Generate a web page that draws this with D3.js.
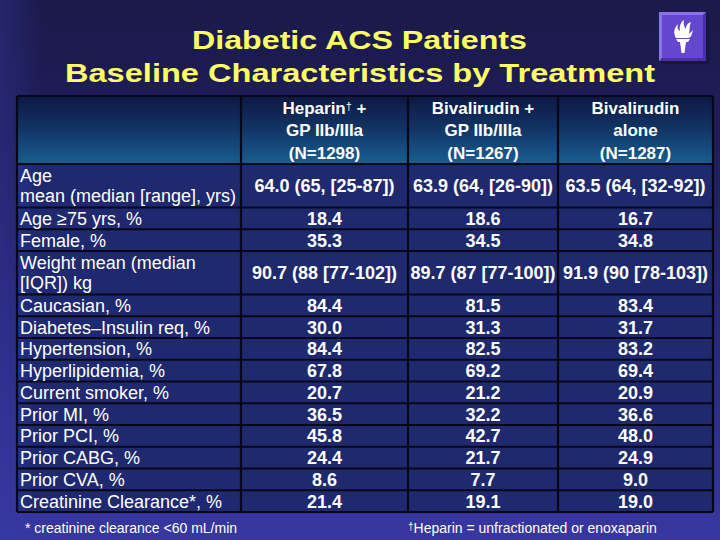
<!DOCTYPE html>
<html>
<head>
<meta charset="utf-8">
<script src="https://cdn.jsdelivr.net/npm/d3@7"></script>
<style>
  html, body { margin: 0; padding: 0; background: #1c1b4e; }
  svg { display: block; }
  text { font-family: "Liberation Sans", Arial, Helvetica, sans-serif; }
</style>
</head>
<body>
<div id="chart"></div>
<script>
// ---------------- DATA ----------------
const titleLines = ["Diabetic ACS Patients", "Baseline Characteristics by Treatment"];
const seriesNames = ["Heparin† +\nGP IIb/IIIa\n(N=1298)", "Bivalirudin +\nGP IIb/IIIa\n(N=1267)", "Bivalirudin\nalone\n(N=1287)"];
const categories = [
  "Age\nmean (median [range], yrs)",
  "Age ≥75 yrs, %",
  "Female, %",
  "Weight mean (median\n[IQR]) kg",
  "Caucasian, %",
  "Diabetes–Insulin req, %",
  "Hypertension, %",
  "Hyperlipidemia, %",
  "Current smoker, %",
  "Prior MI, %",
  "Prior PCI, %",
  "Prior CABG, %",
  "Prior CVA, %",
  "Creatinine Clearance*, %"
];
const heparinGP = ["64.0 (65, [25-87])", "18.4", "35.3", "90.7 (88 [77-102])", "84.4", "30.0", "84.4", "67.8", "20.7", "36.5", "45.8", "24.4", "8.6", "21.4"];
const bivalirudinGP = ["63.9 (64, [26-90])", "18.6", "34.5", "89.7 (87 [77-100])", "81.5", "31.3", "82.5", "69.2", "21.2", "32.2", "42.7", "21.7", "7.7", "19.1"];
const bivalirudinAlone = ["63.5 (64, [32-92])", "16.7", "34.8", "91.9 (90 [78-103])", "83.4", "31.7", "83.2", "69.4", "20.9", "36.6", "48.0", "24.9", "9.0", "19.0"];
const footnoteLeft = "* creatinine clearance <60 mL/min";
const footnoteRight = "†Heparin = unfractionated or enoxaparin";

// ---------------- LAYOUT ----------------
const W = 720, H = 540;
const tableLeft = 17, labelColRight = 241, tableRight = 713;
const colWidths = [167, 150, 155];
const headerTop = 96, headerBottom = 164, tableBottom = 512;

const svg = d3.select("#chart").append("svg").attr("width", W).attr("height", H);
const defs = svg.append("defs");

// background gradient
const bg = defs.append("linearGradient").attr("id", "bg").attr("x1", 0).attr("y1", 0).attr("x2", 0).attr("y2", 1);
bg.append("stop").attr("offset", 0).attr("stop-color", "#1b1a4b");
bg.append("stop").attr("offset", 0.25).attr("stop-color", "#1e1d58");
bg.append("stop").attr("offset", 0.6).attr("stop-color", "#272878");
bg.append("stop").attr("offset", 1).attr("stop-color", "#3737a0");
svg.append("rect").attr("width", W).attr("height", H).attr("fill", "url(#bg)");
const bgSide = defs.append("linearGradient").attr("id", "bgSide").attr("x1", 0).attr("y1", 0).attr("x2", 1).attr("y2", 0);
bgSide.append("stop").attr("offset", 0).attr("stop-color", "#3a3aa8").attr("stop-opacity", 0.35);
bgSide.append("stop").attr("offset", 0.06).attr("stop-color", "#3a3aa8").attr("stop-opacity", 0);
svg.append("rect").attr("width", W).attr("height", H).attr("fill", "url(#bgSide)");

// header gradient
const hg = defs.append("linearGradient").attr("id", "hg").attr("x1", 0).attr("y1", 0).attr("x2", 0).attr("y2", 1);
hg.append("stop").attr("offset", 0).attr("stop-color", "#0d1842");
hg.append("stop").attr("offset", 0.45).attr("stop-color", "#113262");
hg.append("stop").attr("offset", 1).attr("stop-color", "#185e90");

// ---------------- TITLE ----------------
const titleBaselines = [49, 82];
const titleSpans = [[192, 527], [65, 655]];
svg.selectAll("text.title").data(titleLines).join("text")
  .attr("class", "title")
  .attr("x", (d, i) => titleSpans[i][0])
  .attr("y", (d, i) => titleBaselines[i])
  .attr("textLength", (d, i) => titleSpans[i][1] - titleSpans[i][0])
  .attr("lengthAdjust", "spacingAndGlyphs")
  .attr("font-size", 25).attr("font-weight", "bold")
  .attr("fill", "#ffff66")
  .text(d => d);

// ---------------- LOGO ----------------
const logo = svg.append("g").attr("transform", "translate(659,12)");
logo.append("rect").attr("x", 2).attr("y", 2).attr("width", 48).attr("height", 50).attr("fill", "#17163c");
logo.append("rect").attr("width", 47).attr("height", 49).attr("fill", "#6446cf");
logo.append("path").attr("d", "M0,0 H47 L44,3 H3 V46 L0,49 Z").attr("fill", "#8a74e6");
logo.append("path").attr("d", "M47,0 V49 H0 L3,46 H44 V3 Z").attr("fill", "#4a30a8");
// torch
logo.append("path").attr("fill", "#ffffff")
  .attr("d", "M17,26 C14,21 15,16 19,12 C18,16 19,18 21,19 C20,14 22,10 25,8 C24,12 25,15 27,17 C27,13 29,11 32,10 C30,14 31,18 30,22 C32,20 33,19 34,18 C33,22 32,25 30,26 Z");
logo.append("path").attr("fill", "#ffffff").attr("d", "M17,27 H31 L29,30 H19 Z");
logo.append("path").attr("fill", "#ffffff").attr("d", "M21,30 H27 L25.5,41 H22.5 Z");

// ---------------- TABLE SCALES ----------------
const series = [heparinGP, bivalirudinGP, bivalirudinAlone];
const xCol = d3.scaleOrdinal().domain(seriesNames)
  .range(d3.range(colWidths.length).map(i => labelColRight + d3.sum(colWidths.slice(0, i))));
const colW = d3.scaleOrdinal().domain(seriesNames).range(colWidths);

const rowUnits = categories.map(c => c.split("\n").length);
const cum = [0]; rowUnits.forEach(u => cum.push(cum[cum.length - 1] + u));
const yUnit = d3.scaleLinear().domain([0, cum[cum.length - 1]]).range([headerBottom, tableBottom]);

const rows = categories.map((c, i) => ({ label: c, y0: yUnit(cum[i]), y1: yUnit(cum[i + 1]), values: series.map(s => s[i]) }));

// header cells
const tbl = svg.append("g");
tbl.append("rect").attr("x", tableLeft).attr("y", headerTop)
  .attr("width", tableRight - tableLeft).attr("height", headerBottom - headerTop)
  .attr("fill", "url(#hg)");

// body cells fill
const cellGrad = defs.append("linearGradient").attr("id", "cellg").attr("x1", 0).attr("y1", 0).attr("x2", 1).attr("y2", 0);
cellGrad.append("stop").attr("offset", 0).attr("stop-color", "#26308a");
cellGrad.append("stop").attr("offset", 0.08).attr("stop-color", "#1f296f");
cellGrad.append("stop").attr("offset", 1).attr("stop-color", "#1f296f");
tbl.append("rect").attr("x", tableLeft).attr("y", headerBottom)
  .attr("width", labelColRight - tableLeft).attr("height", tableBottom - headerBottom)
  .attr("fill", "url(#cellg)");
tbl.append("rect").attr("x", labelColRight).attr("y", headerBottom)
  .attr("width", tableRight - labelColRight).attr("height", tableBottom - headerBottom)
  .attr("fill", "#1f2a6e");

// grid lines
const lineColor = "#06081a";
const hLines = [headerTop, headerBottom].concat(rows.map(r => r.y1));
tbl.selectAll("line.h").data(hLines).join("line")
  .attr("x1", tableLeft).attr("x2", tableRight)
  .attr("y1", d => d).attr("y2", d => d)
  .attr("stroke", lineColor).attr("stroke-width", 2.2);
const vLines = [tableLeft, labelColRight].concat(seriesNames.map(s => xCol(s) + colW(s)));
tbl.selectAll("line.v").data(vLines).join("line")
  .attr("x1", d => d).attr("x2", d => d)
  .attr("y1", headerTop).attr("y2", tableBottom)
  .attr("stroke", lineColor).attr("stroke-width", 2.2);

// header text
const headerLineH = 22.5;
seriesNames.forEach(name => {
  const lines = name.split("\n");
  const cx = xCol(name) + colW(name) / 2;
  const cy = (headerTop + headerBottom) / 2;
  const t = tbl.append("text").attr("text-anchor", "middle")
    .attr("fill", "#ffffff").attr("font-weight", "bold").attr("font-size", 17);
  lines.forEach((ln, i) => {
    const y = cy + (i - (lines.length - 1) / 2) * headerLineH + 6;
    const parts = ln.split("†");
    t.append("tspan").attr("x", cx).attr("y", y).text(parts[0]);
    if (parts.length > 1) {
      t.append("tspan").attr("font-size", 11).attr("font-weight", "normal").attr("dy", -4).text("†");
      t.append("tspan").attr("dy", 4).text(parts[1]);
    }
  });
});

// row labels
const labelLineH = 20;
rows.forEach(r => {
  const lines = r.label.split("\n");
  const cy = (r.y0 + r.y1) / 2;
  const t = tbl.append("text").attr("fill", "#ffffff").attr("font-size", 18);
  lines.forEach((ln, i) => {
    t.append("tspan").attr("x", 20)
      .attr("y", cy + (i - (lines.length - 1) / 2) * labelLineH + 6.5)
      .text(ln);
  });
});

// values
rows.forEach(r => {
  const cy = (r.y0 + r.y1) / 2;
  seriesNames.forEach((s, j) => {
    tbl.append("text").attr("text-anchor", "middle")
      .attr("x", xCol(s) + colW(s) / 2).attr("y", cy + 6.5)
      .attr("fill", "#ffffff").attr("font-weight", "bold").attr("font-size", 18)
      .text(r.values[j]);
  });
});

// footnotes
svg.append("text").attr("x", 25).attr("y", 533).attr("fill", "#ffffff").attr("font-size", 14).text(footnoteLeft);
svg.append("text").attr("x", 408).attr("y", 533).attr("fill", "#ffffff").attr("font-size", 14)
  .call(t => {
    t.append("tspan").attr("font-size", 10).attr("dy", -3).text("†");
    t.append("tspan").attr("dy", 3).text(footnoteRight.replace("†", ""));
  });
</script>
</body>
</html>
